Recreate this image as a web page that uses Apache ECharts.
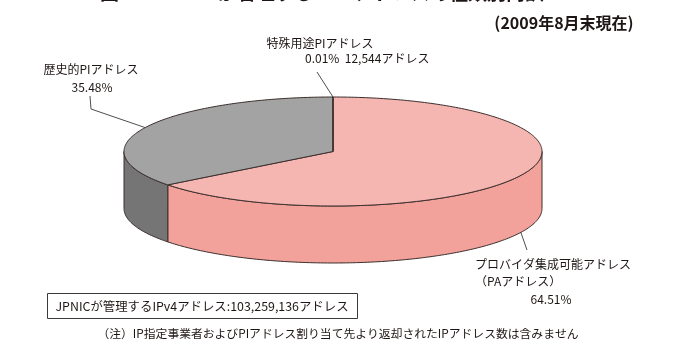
<!DOCTYPE html>
<html>
<head>
<meta charset="utf-8">
<script src="https://cdn.jsdelivr.net/npm/echarts@6/dist/echarts.min.js"></script>
<style>
  html, body { margin: 0; padding: 0; background: #ffffff; }
  #chart { width: 688px; height: 346px; }
</style>
</head>
<body>
<div id="chart"></div>
<script>
// Address types and counts (addresses managed by JPNIC, end of August 2009)
const categories = ['プロバイダ集成可能アドレス', '歴史的PIアドレス', '特殊用途PIアドレス'];
const addressCounts = [66612224, 36634368, 12544];
const unitLabel = 'アドレス';
const dateNote = '(2009年8月末現在)';
const totalLabel = 'JPNICが管理するIPv4アドレス';
const footNote = '（注）IP指定事業者およびPIアドレス割り当て先より返却されたIPアドレス数は含みません';
const titleText = '図 3-3  JPNICが管理するIPv4アドレスの種類別内訳';

// Styling of the slanted pie
const topFill = ['#f5b5b0', '#a3a3a3', '#bdbdbd'];
const sideFill = ['#f2a29a', '#757575', '#8a8a8a'];
const edgeColor = '#3b2f2d';
const textColor = '#1e1614';
const FONT = '"Noto Sans CJK JP", "Noto Sans", sans-serif';

// Ellipse geometry of the pie (pixels)
const geo = { cx: 333, cy: 151.5, rx: 209, ry: 54.5, depth: 57 };

const total = addressCounts.reduce((a, b) => a + b, 0);
const fmt = n => n.toLocaleString('en-US');
const pct = v => (v / total * 100).toFixed(2) + '%';

// angle in degrees, clockwise from 12 o'clock
function pt(theta, dy) {
  const r = theta * Math.PI / 180;
  return [geo.cx + geo.rx * Math.sin(r), geo.cy - geo.ry * Math.cos(r) + (dy || 0)];
}
function arc(a0, a1, dy) {
  const n = Math.max(2, Math.ceil(Math.abs(a1 - a0)));
  const pts = [];
  for (let k = 0; k <= n; k++) pts.push(pt(a0 + (a1 - a0) * k / n, dy));
  return pts;
}

const starts = [];
addressCounts.reduce((acc, v, i) => { starts[i] = acc; return acc + v; }, 0);

function renderSlice(params, api) {
  const i = params.dataIndex;
  const v = api.value(0);
  const a0 = starts[i] / total * 360;
  const a1 = (starts[i] + v) / total * 360;
  const children = [];
  // front wall, visible between 90° and 270°
  const s = Math.max(a0, 90), e = Math.min(a1, 270);
  if (e > s) {
    children.push({
      type: 'polygon',
      shape: { points: arc(s, e, 0).concat(arc(e, s, geo.depth)) },
      style: { fill: sideFill[i], stroke: edgeColor, lineWidth: 1 }
    });
  }
  // top face
  children.push({
    type: 'polygon',
    shape: { points: [[geo.cx, geo.cy]].concat(arc(a0, a1, 0)) },
    style: { fill: topFill[i], stroke: edgeColor, lineWidth: 1 }
  });
  return { type: 'group', children: children };
}

function txt(x, y, text, opt) {
  return Object.assign({
    type: 'text', x: x, y: y, silent: true,
    style: Object.assign({
      text: text, fill: textColor, font: '12px ' + FONT,
      align: 'center', verticalAlign: 'middle'
    }, (opt && opt.style) || {})
  }, opt && opt.el ? opt.el : {});
}
function leader(points) {
  return { type: 'polyline', silent: true, shape: { points: points },
           style: { stroke: '#3a3a3a', lineWidth: 0.9, fill: null } };
}

const chart = echarts.init(document.getElementById('chart'));
chart.setOption({
  animation: false,
  backgroundColor: '#ffffff',
  series: [{
    type: 'custom',
    coordinateSystem: 'none',
    renderItem: renderSlice,
    data: addressCounts.map(v => [v]),
    z: 2
  }],
  graphic: [
    // heading (mostly above the visible area)
    txt(100, 2, titleText, { style: { align: 'left', verticalAlign: 'bottom', font: 'bold 19px ' + FONT } }),
    txt(564, 23, dateNote, { style: { font: 'bold 16px ' + FONT } }),

    // special-use PI
    txt(320, 43, categories[2]),
    txt(305, 58, pct(addressCounts[2]) + '  ' + fmt(addressCounts[2]) + unitLabel, { style: { align: 'left' } }),
    leader([[317, 72], pt(0, 0)]),

    // historical PI
    txt(91, 69, categories[1]),
    txt(92, 87, pct(addressCounts[1])),
    leader([[90, 96], [91, 109], pt(296, 0)]),
    txt(239, 133, fmt(addressCounts[1]) + unitLabel),

    // PA
    txt(417, 161, fmt(addressCounts[0]) + unitLabel),
    leader([[527, 250], pt(116, geo.depth)]),
    txt(475, 264, categories[0], { style: { align: 'left' } }),
    txt(475, 281, '（PAアドレス）', { style: { align: 'left' } }),
    txt(551, 299, pct(addressCounts[0])),

    // total box
    { type: 'rect', silent: true, shape: { x: 47.5, y: 293.5, width: 310, height: 25 },
      style: { fill: '#ffffff', stroke: '#3a3a3a', lineWidth: 1 } },
    txt(202, 306, totalLabel + ':' + fmt(total) + unitLabel, { style: { font: '12.4px ' + FONT } }),

    // footnote
    txt(338, 334, footNote, { style: { font: '11.8px ' + FONT } })
  ]
});
</script>
</body>
</html>
